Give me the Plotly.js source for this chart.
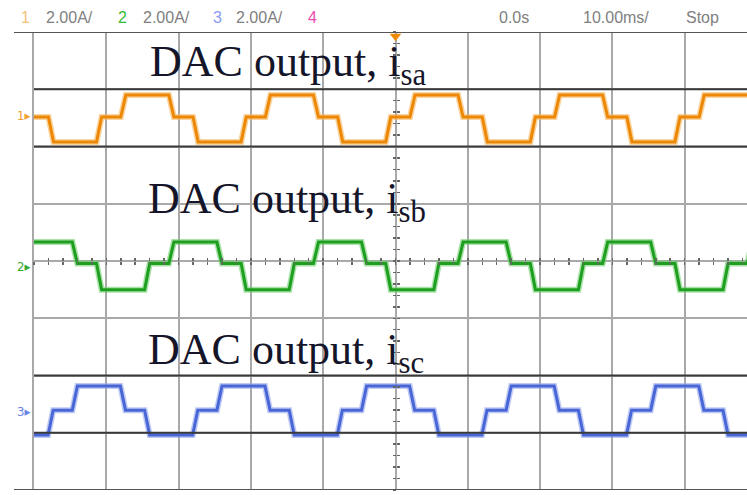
<!DOCTYPE html>
<html><head><meta charset="utf-8">
<script src="https://cdn.plot.ly/plotly-3.0.1.min.js"></script>
<style>html,body{margin:0;padding:0;background:#fff;}#c{width:747px;height:495px;}</style>
</head><body><div id="c"></div>
<script>
// ---- data: flat segments of each channel (time in ms, current in A incl. channel offset) ----
const orangeStart = [-51,-47.3,-40.65,-37.3,-30.65,-27.3,-20.65,-17.3,-10.65,-7.3,-0.65,2.7,9.35,12.7,19.35,22.7,29.35,32.7,39.35,42.7];
const orangeEnd   = [-48.0,-41.35,-38.0,-31.35,-28.0,-21.35,-18.0,-11.35,-8.0,-1.35,2.0,8.65,12.0,18.65,22.0,28.65,32.0,38.65,42.0,50];
const orangeVal   = [5.03,4.16,5.03,5.80,5.03,4.16,5.03,5.80,5.03,4.16,5.03,5.80,5.03,4.16,5.03,5.80,5.03,4.16,5.03,5.80];

const greenStart = [-51,-44.0,-40.65,-34.0,-30.65,-24.0,-20.65,-14.0,-10.65,-4.0,-0.65,6.0,9.35,16.0,19.35,26.0,29.35,36.0,39.35,46.0,49.35];
const greenEnd   = [-44.7,-41.35,-34.7,-31.35,-24.7,-21.35,-14.7,-11.35,-4.7,-1.35,5.3,8.65,15.3,18.65,25.3,28.65,35.3,38.65,45.3,48.65,51];
const greenVal   = [0.66,-0.09,-1.0,-0.09,0.66,-0.09,-1.0,-0.09,0.66,-0.09,-1.0,-0.09,0.66,-0.09,-1.0,-0.09,0.66,-0.09,-1.0,-0.09,0.66];

const blueStart = [-51,-47.35,-44.0,-37.35,-34.0,-27.35,-24.0,-17.35,-14.0,-7.35,-4.0,2.65,6.0,12.65,16.0,22.65,26.0,32.65,36.0,42.65,46.0];
const blueEnd   = [-48.05,-44.7,-38.05,-34.7,-28.05,-24.7,-18.05,-14.7,-8.05,-4.7,1.95,5.3,11.95,15.3,21.95,25.3,31.95,35.3,41.95,45.3,51];
const blueVal   = [-6.08,-5.21,-4.37,-5.21,-6.08,-5.21,-4.37,-5.21,-6.08,-5.21,-4.37,-5.21,-6.08,-5.21,-4.37,-5.21,-6.08,-5.21,-4.37,-5.21,-6.08];

const labels = ["DAC output, i<sub>sa</sub>", "DAC output, i<sub>sb</sub>", "DAC output, i<sub>sc</sub>"];
const headerTexts = ["1", "2.00A/", "2", "2.00A/", "3", "2.00A/", "4", "0.0s", "10.00ms/", "Stop"];

// ---- build ----
function corners(s, e, v) {
  const x = [], y = [];
  for (let i = 0; i < s.length; i++) { x.push(s[i], e[i]); y.push(v[i], v[i]); }
  return {x, y};
}
const W = 747, H = 495, L = 34, T = 32, B = 5;
const pxPerMs = 7.23;
const xMax = -50 + (W - L) / pxPerMs;
const px = p => (p - L) / (W - L);
const py = p => (H - B - p) / (H - T - B);

const chans = [
  {d: corners(orangeStart, orangeEnd, orangeVal), c: '#ec8806', h: '#f7b860'},
  {d: corners(greenStart, greenEnd, greenVal), c: '#1f9f1f', h: '#6fcf6f'},
  {d: corners(blueStart, blueEnd, blueVal), c: '#4866d6', h: '#93a8ee'}
];
const traces = [];
chans.forEach(ch => {
  traces.push({x: ch.d.x, y: ch.d.y, type: 'scatter', mode: 'lines', line: {color: ch.h, width: 6}, opacity: 0.6, hoverinfo: 'skip'});
  traces.push({x: ch.d.x, y: ch.d.y, type: 'scatter', mode: 'lines', line: {color: ch.c, width: 3}, hoverinfo: 'skip'});
});
// trigger marker
traces.push({x: [0], y: [7.85], type: 'scatter', mode: 'markers', marker: {symbol: 'triangle-down', size: 10, color: '#f08a00'}, cliponaxis: false, hoverinfo: 'skip'});

const shapes = [];
[6, 4, -4, -6].forEach(v => shapes.push({type: 'line', xref: 'paper', yref: 'y', x0: 0, x1: 1, y0: v, y1: v, line: {color: '#3a3a3a', width: 2}}));
[8, -8].forEach(v => shapes.push({type: 'line', xref: 'paper', yref: 'y', x0: px(14), x1: 1, y0: v, y1: v, line: {color: '#555', width: 2}}));

const ann = [];
const serif = {family: 'Liberation Serif, Times New Roman, serif', size: 44, color: '#15152a'};
[[148, 35], [146, 172], [146, 323]].forEach((p, i) => {
  ann.push({text: labels[i], xref: 'paper', yref: 'paper', x: px(p[0]), y: py(p[1]), xanchor: 'left', yanchor: 'top', showarrow: false, font: serif});
});
const hdrX = [19, 44, 116, 141, 211, 234, 306, 497, 581, 684];
const hdrC = ['#f6c37a', '#808080', '#33bb33', '#808080', '#8a9cf2', '#808080', '#f04ab0', '#808080', '#808080', '#808080'];
headerTexts.forEach((t, i) => {
  ann.push({text: t, xref: 'paper', yref: 'paper', x: px(hdrX[i]), y: py(17), xanchor: 'left', yanchor: 'middle', showarrow: false,
    font: {family: 'Liberation Sans, Arial, sans-serif', size: 16, color: hdrC[i]}});
});
const mk = [['1', 116, '#f0a030'], ['2', 266, '#33aa33'], ['3', 411, '#6a84e6']];
mk.forEach(m => {
  ann.push({text: m[0] + '▸', xref: 'paper', yref: 'paper', x: px(15), y: py(m[1]), xanchor: 'left', yanchor: 'middle', showarrow: false,
    font: {family: 'DejaVu Sans Condensed, sans-serif', size: 13, color: m[2]}});
});

const tickAx = (ticks) => ({overlaying: 'x', anchor: 'free', position: 0.5, range: [-50, xMax], dtick: 2, tick0: 0, ticks: ticks, ticklen: 3, tickwidth: 1.5, tickcolor: '#666', showticklabels: false, showgrid: false, zeroline: false, showline: false});
const tickAy = (ticks) => ({overlaying: 'y', anchor: 'free', position: px(L + 50 * pxPerMs), range: [-8, 8], dtick: 0.4, tick0: 0, ticks: ticks, ticklen: 3, tickwidth: 1.5, tickcolor: '#666', showticklabels: false, showgrid: false, zeroline: false, showline: false});

const layout = {
  width: W, height: H, margin: {l: L, r: 0, t: T, b: B},
  paper_bgcolor: '#fff', plot_bgcolor: '#fff', showlegend: false,
  xaxis: {range: [-50, xMax], dtick: 10, tick0: 0, showgrid: true, gridcolor: '#a9a9a9', gridwidth: 2, zeroline: false, showticklabels: false, ticks: '', showline: false},
  yaxis: {range: [-8, 8], dtick: 2, tick0: 0, showgrid: true, gridcolor: '#a9a9a9', gridwidth: 2, zeroline: false, showticklabels: false, ticks: '', showline: true, linecolor: '#a9a9a9', linewidth: 2},
  xaxis2: tickAx('outside'), xaxis3: tickAx('inside'),
  yaxis2: tickAy('outside'), yaxis3: tickAy('inside'),
  shapes: shapes, annotations: ann
};
// empty traces to activate the centre-line tick axes
traces.push({x: [], y: [], xaxis: 'x2', yaxis: 'y', type: 'scatter'});
traces.push({x: [], y: [], xaxis: 'x3', yaxis: 'y', type: 'scatter'});
traces.push({x: [], y: [], xaxis: 'x', yaxis: 'y2', type: 'scatter'});
traces.push({x: [], y: [], xaxis: 'x', yaxis: 'y3', type: 'scatter'});
Plotly.newPlot('c', traces, layout, {staticPlot: true});
</script></body></html>
